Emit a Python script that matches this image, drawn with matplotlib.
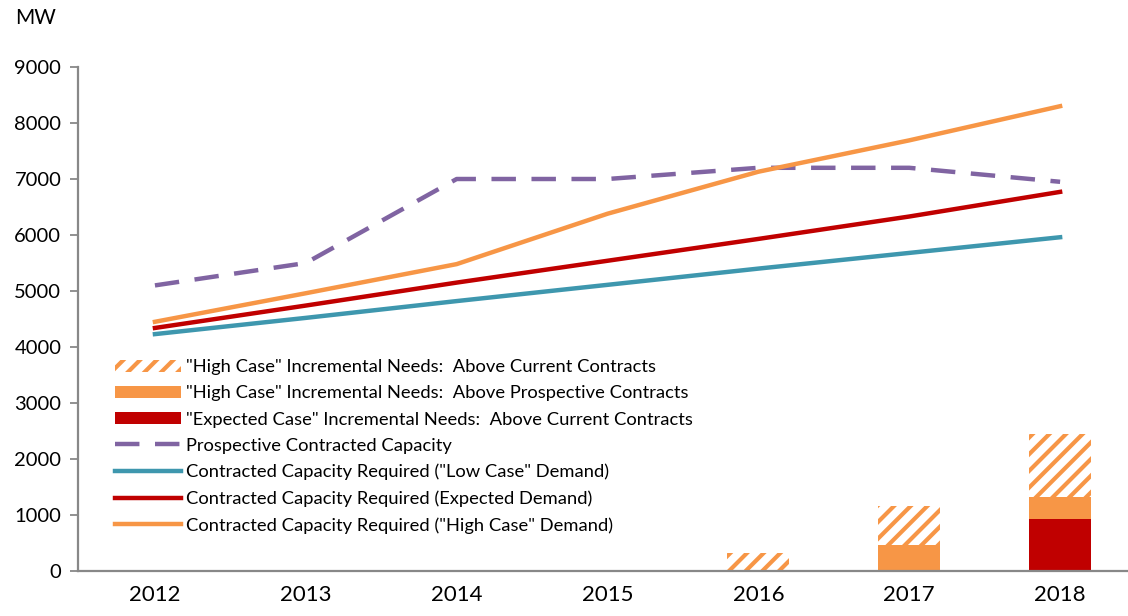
import matplotlib
matplotlib.use("Agg")
import matplotlib.pyplot as plt
import numpy as np

years = ["2012", "2013", "2014", "2015", "2016", "2017", "2018"]
prospective = [5100, 5500, 7000, 7000, 7200, 7200, 6950]
high_demand = [4450, 4960, 5480, 6380, 7130, 7690, 8300]
expected_demand = [4340, 4740, 5150, 5540, 5930, 6330, 6770]
low_demand = [4230, 4520, 4820, 5110, 5400, 5680, 5960]

expected_need = [0, 0, 0, 0, 0, 0, 930]
high_above_prosp = [0, 0, 0, 0, 0, 460, 390]
high_above_curr = [0, 0, 0, 0, 320, 700, 1130]

orange = "#F79646"
red = "#C00000"
teal = "#3E97AE"
purple = "#8064A2"

plt.rcParams["font.family"] = ["Lato", "DejaVu Sans"]
plt.rcParams["hatch.linewidth"] = 3.0

fig = plt.figure(figsize=(11.28, 6.16), dpi=100)
ax = fig.add_axes([78 / 1128, 1 - 571 / 616, 1 - 78 / 1128, (571 - 67) / 616])

x = np.arange(len(years))
w = 0.41
b_red = ax.bar(x, expected_need, w, color=red, linewidth=0)
b_or = ax.bar(x, high_above_prosp, w, bottom=expected_need, color=orange, linewidth=0)
bottom2 = np.array(expected_need) + np.array(high_above_prosp)
b_hat = ax.bar(x, high_above_curr, w, bottom=bottom2, facecolor="white",
               edgecolor=orange, linewidth=0, hatch="//")

l_pro, = ax.plot(x, prospective, color=purple, lw=3.2, ls=(0, (5.5, 3.5)))
l_low, = ax.plot(x, low_demand, color=teal, lw=3.2)
l_exp, = ax.plot(x, expected_demand, color=red, lw=3.2)
l_high, = ax.plot(x, high_demand, color=orange, lw=3.2)

ax.set_xlim(-0.51, 6.45)
ax.set_ylim(0, 9000)
ax.set_yticks(range(0, 9001, 1000))
ax.set_xticks(x)
ax.set_xticklabels(years)
ax.tick_params(axis="y", colors="#888888", length=6, width=1.3, labelsize=14.5, labelcolor="black", pad=6)
ax.tick_params(axis="x", length=0, labelsize=16, pad=10)
for s in ["top", "right"]:
    ax.spines[s].set_visible(False)
for s in ["left", "bottom"]:
    ax.spines[s].set_color("#888888")
    ax.spines[s].set_linewidth(1.6)

fig.text(15 / 1128, 1 - 18 / 616, "MW", fontsize=15, va="center", ha="left")

handles = [b_hat, b_or, b_red, l_pro, l_low, l_exp, l_high]
labels = [
    '"High Case" Incremental Needs:  Above Current Contracts',
    '"High Case" Incremental Needs:  Above Prospective Contracts',
    '"Expected Case" Incremental Needs:  Above Current Contracts',
    "Prospective Contracted Capacity",
    'Contracted Capacity Required ("Low Case" Demand)',
    "Contracted Capacity Required (Expected Demand)",
    'Contracted Capacity Required ("High Case" Demand)',
]
ax.legend(handles, labels, loc="upper left", bbox_to_anchor=(30 / 1050, (571 - 352) / 504),
          frameon=False, fontsize=13.2, handlelength=3.6, handleheight=0.62,
          labelspacing=0.55, handletextpad=0.25, borderaxespad=0)

fig.savefig("out.png", dpi=100)
